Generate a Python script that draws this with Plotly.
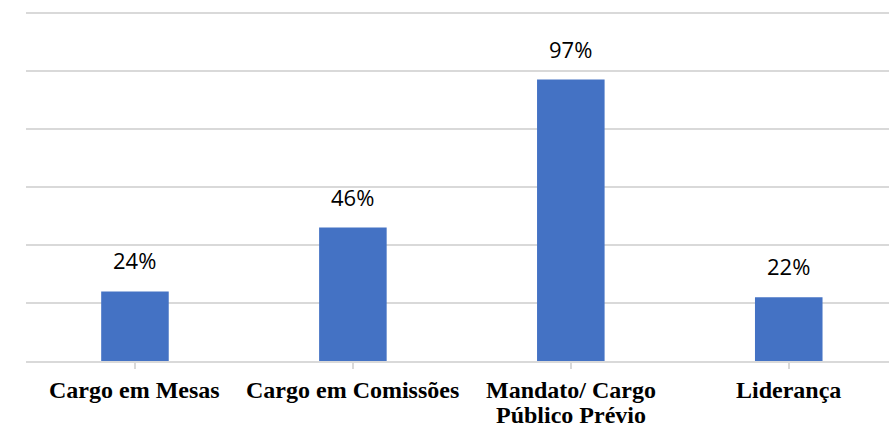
import plotly.graph_objects as go

categories = ["Cargo em Mesas", "Cargo em Comissões", "Mandato/ Cargo<br>Público Prévio", "Liderança"]
values = [24, 46, 97, 22]

bar_color = "#4472C4"
grid_color = "#d9d9d9"

shares = [v / 100 for v in values]
idx = list(range(len(categories)))

fig = go.Figure()
fig.add_trace(go.Bar(
    x=idx,
    y=shares,
    width=0.31,
    marker=dict(color=bar_color, line=dict(width=0)),
    hoverinfo="skip",
))

annotations = []
# value labels above bars
for i, (s, v) in enumerate(zip(shares, values)):
    annotations.append(dict(
        x=i, y=s, xref="x", yref="y",
        text=f"{v}%", showarrow=False,
        xanchor="center", yanchor="bottom", yshift=14,
        font=dict(family="Open Sans", size=22, color="#000000"),
    ))
# category labels under the axis, one annotation per line for tight spacing
for i, cat in enumerate(categories):
    for j, line in enumerate(cat.split("<br>")):
        annotations.append(dict(
            x=i, y=0, xref="x", yref="paper",
            text=f"<b>{line}</b>", showarrow=False,
            xanchor="center", yanchor="top", yshift=-14 - 25 * j,
            font=dict(family="Liberation Serif", size=24, color="#000000"),
        ))

fig.update_layout(
    width=889, height=441,
    margin=dict(l=26, r=0, t=10, b=80),
    paper_bgcolor="white", plot_bgcolor="white",
    showlegend=False,
    annotations=annotations,
    xaxis=dict(
        range=[-0.5, 3.46],
        tickmode="array", tickvals=idx, ticktext=categories,
        showticklabels=False,
        tickson="boundaries", ticks="outside", ticklen=6,
        tickcolor=grid_color, tickwidth=1.5,
        showline=True, linecolor=grid_color, linewidth=1.5,
        showgrid=False, zeroline=False, fixedrange=True,
    ),
    yaxis=dict(
        range=[0, 1.21],
        dtick=0.2, tick0=0,
        showticklabels=False,
        showgrid=True, gridcolor=grid_color, gridwidth=1.5,
        zeroline=False, showline=False, fixedrange=True,
    ),
)

fig.write_html("out.html")
